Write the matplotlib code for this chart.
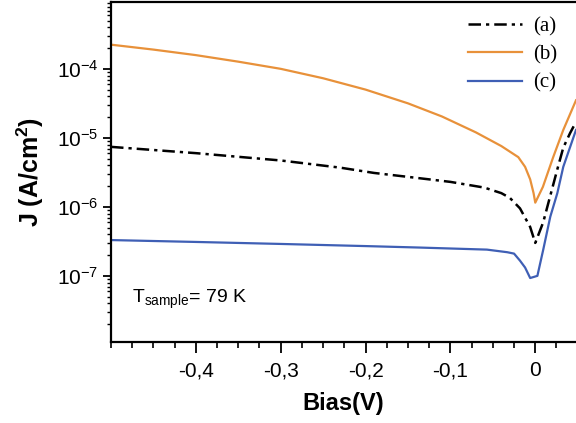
import numpy as np
import matplotlib
matplotlib.use("Agg")
import matplotlib.pyplot as plt
from matplotlib.ticker import FixedLocator, LogLocator, NullFormatter, FuncFormatter, MultipleLocator

plt.rcParams["font.family"] = ["Liberation Sans", "DejaVu Sans"]
plt.rcParams["mathtext.fontset"] = "custom"
plt.rcParams["mathtext.rm"] = "Liberation Sans"
plt.rcParams["mathtext.it"] = "Liberation Sans:italic"
plt.rcParams["mathtext.bf"] = "Liberation Sans:bold"

# bias (V) and current density (A/cm^2)
bias_a = [-0.50, -0.40, -0.30, -0.23, -0.19, -0.14, -0.10, -0.06, -0.04, -0.03,
          -0.018, -0.006, 0.0, 0.0094, 0.0177, 0.026, 0.033, 0.041, 0.048]
j_a = [7.4e-6, 6.0e-6, 4.7e-6, 3.7e-6, 3.1e-6, 2.63e-6, 2.3e-6, 1.9e-6, 1.58e-6, 1.35e-6,
       9.5e-7, 5.1e-7, 3.0e-7, 6.0e-7, 1.45e-6, 3.5e-6, 7.2e-6, 1.17e-5, 1.7e-5]

bias_b = [-0.50, -0.45, -0.40, -0.35, -0.30, -0.25, -0.20, -0.15, -0.11, -0.07,
          -0.04, -0.02, -0.012, -0.006, -0.002, 0.0, 0.009, 0.021, 0.033, 0.048]
j_b = [2.24e-4, 1.9e-4, 1.58e-4, 1.27e-4, 1.0e-4, 7.3e-5, 5.0e-5, 3.16e-5, 2.04e-5,
       1.2e-5, 7.6e-6, 5.25e-6, 3.8e-6, 2.5e-6, 1.58e-6, 1.15e-6, 1.95e-6, 5.2e-6,
       1.3e-5, 3.5e-5]

bias_c = [-0.50, -0.40, -0.30, -0.20, -0.136, -0.057, -0.033, -0.025, -0.018, -0.012,
          -0.006, 0.0025, 0.0094, 0.0177, 0.026, 0.033, 0.048]
j_c = [3.3e-7, 3.1e-7, 2.9e-7, 2.7e-7, 2.57e-7, 2.4e-7, 2.2e-7, 2.1e-7, 1.66e-7, 1.32e-7,
       9.3e-8, 1.0e-7, 2.4e-7, 7.2e-7, 1.58e-6, 3.8e-6, 1.3e-5]

labels = ["(a)", "(b)", "(c)"]
x_ticks = [-0.4, -0.3, -0.2, -0.1, 0.0]
y_ticks = [1e-7, 1e-6, 1e-5, 1e-4]

fig = plt.figure(figsize=(5.76, 4.23), dpi=100)
ax = fig.add_axes([111 / 576, 1 - 342 / 423, 1 - 111 / 576, 340 / 423])

ax.plot(bias_a, j_a, color="black", lw=1.8, dashes=[5, 2, 1.3, 2], label=labels[0])
ax.plot(bias_b, j_b, color="#E8913A", lw=1.6, label=labels[1])
ax.plot(bias_c, j_c, color="#3F5FB5", lw=1.6, label=labels[2])

ax.set_yscale("log")
ax.set_xlim(-0.5, 0.048)
ax.set_ylim(1.1e-8, 9.3e-4)

ax.xaxis.set_major_locator(FixedLocator(x_ticks))
ax.xaxis.set_minor_locator(MultipleLocator(0.025))
ax.xaxis.set_major_formatter(FuncFormatter(lambda v, p: "0" if abs(v) < 1e-9 else f"{v:g}".replace(".", ",")))
ax.yaxis.set_major_locator(FixedLocator(y_ticks))
ax.yaxis.set_minor_locator(LogLocator(base=10, subs=np.arange(2, 10)))
ax.yaxis.set_minor_formatter(NullFormatter())
ax.yaxis.set_major_formatter(FuncFormatter(lambda v, p: r"$\mathregular{10^{%d}}$" % round(np.log10(v))))

ax.tick_params(axis="both", which="major", direction="out", labelsize=15, width=1.3)
ax.tick_params(axis="x", which="major", length=8, pad=6)
ax.tick_params(axis="x", which="minor", direction="out", length=4, width=1.2)
ax.tick_params(axis="y", which="major", length=6, pad=3)
ax.tick_params(axis="y", which="minor", direction="out", length=3, width=1.0)

ax.spines["right"].set_visible(False)
for s in ["left", "bottom", "top"]:
    ax.spines[s].set_linewidth(1.6)

ax.set_xlabel("Bias(V)", fontsize=17, fontweight="bold", labelpad=8)
ax.set_ylabel(r"J (A/cm$^\mathregular{2}$)", fontsize=18, fontweight="bold", labelpad=8)

ax.text(0.045, 0.115, r"T$_\mathregular{sample}$= 79 K", transform=ax.transAxes,
        fontsize=14, ha="left", va="baseline")

leg = ax.legend(loc="upper right", bbox_to_anchor=(0.99, 1.0), frameon=False,
                prop={"family": "Liberation Serif", "size": 15}, handlelength=2.6,
                handletextpad=0.5, labelspacing=0.42, borderaxespad=0.3)

fig.savefig("out.png", dpi=100)
